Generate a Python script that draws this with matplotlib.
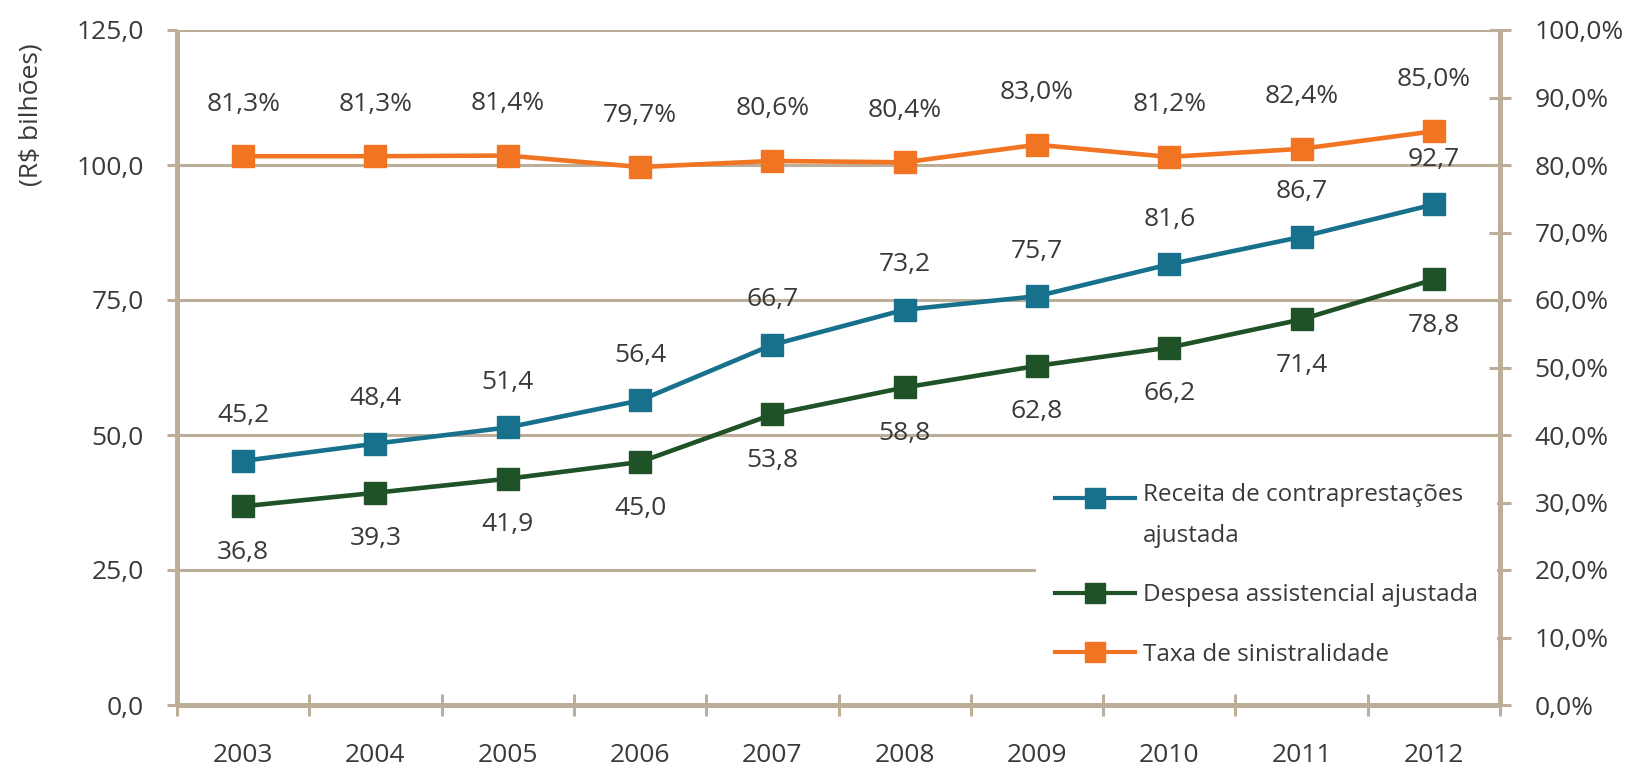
import matplotlib
matplotlib.use("Agg")
import matplotlib.pyplot as plt
from matplotlib.legend_handler import HandlerLine2D
import numpy as np

years = ["2003", "2004", "2005", "2006", "2007", "2008", "2009", "2010", "2011", "2012"]
receita = [45.2, 48.4, 51.4, 56.4, 66.7, 73.2, 75.7, 81.6, 86.7, 92.7]
despesa = [36.8, 39.3, 41.9, 45.0, 53.8, 58.8, 62.8, 66.2, 71.4, 78.8]
taxa = [81.3, 81.3, 81.4, 79.7, 80.6, 80.4, 83.0, 81.2, 82.4, 85.0]

left_ticks = [0, 25, 50, 75, 100, 125]
right_ticks = list(range(0, 101, 10))

C_BLUE = "#17708C"
C_GREEN = "#1F5227"
C_ORANGE = "#F07422"
C_AXIS = "#BCAE98"
C_TEXT = "#3A3A3A"

plt.rcParams['font.family'] = ['Open Sans', 'DejaVu Sans']
FS = 19
FSL = 17.5

fig = plt.figure(figsize=(16.27, 7.67), dpi=100)
ax = fig.add_axes([177/1627, 62/767, (1500-177)/1627, (705-30)/767])
ax2 = ax.twinx()

x = np.arange(len(years))

ax.set_xlim(-0.5, len(years) - 0.5)
ax.set_ylim(0, 125)
ax2.set_ylim(0, 100)

ax.set_yticks(left_ticks)
ax.set_yticklabels([f"{v:.1f}".replace(".", ",") for v in left_ticks])
ax.yaxis.grid(True, color=C_AXIS, linewidth=2.2)
ax.set_axisbelow(True)

ax.set_xticks(np.arange(-0.5, len(years), 1.0), minor=False)
ax.set_xticklabels([])
ax.set_xticks(x, minor=True)
ax.set_xticklabels(years, minor=True)
ax.tick_params(axis='x', which='major', direction='inout', length=16, width=2.2, color=C_AXIS)
ax.tick_params(axis='x', which='minor', length=0, pad=27, labelsize=FS, labelcolor=C_TEXT)
ax.tick_params(axis='y', direction='out', length=7, width=2.2, color=C_AXIS, pad=17,
               labelsize=FS, labelcolor=C_TEXT)

ax2.set_yticks(right_ticks)
ax2.set_yticklabels([f"{v:.1f}%".replace(".", ",") for v in right_ticks])
ax2.tick_params(axis='y', direction='inout', length=16, width=2.2, color=C_AXIS, pad=17,
                labelsize=FS, labelcolor=C_TEXT)

for a in (ax, ax2):
    for s in a.spines.values():
        s.set_visible(False)
ax.spines['left'].set_visible(True)
ax.spines['bottom'].set_visible(True)
ax2.spines['right'].set_visible(True)
for s in (ax.spines['left'], ax.spines['bottom'], ax2.spines['right']):
    s.set_color(C_AXIS)
    s.set_linewidth(3.6)
    s.set_capstyle('butt')

ax.set_ylabel("(R\\$ bilhões)", fontsize=FS, color=C_TEXT)
ax.yaxis.set_label_coords(-0.101, 0.874)

lkw = dict(linewidth=3.3, marker='s', markersize=16, clip_on=False)
l1, = ax.plot(x, receita, color=C_BLUE, label="Receita de contraprestações\najustada", zorder=3, **lkw)
l2, = ax.plot(x, despesa, color=C_GREEN, label="Despesa assistencial ajustada", zorder=3, **lkw)
l3, = ax2.plot(x, taxa, color=C_ORANGE, label="Taxa de sinistralidade", zorder=3, **lkw)

def fmt(v, pct=False):
    s = f"{v:.1f}".replace(".", ",")
    return s + "%" if pct else s

for xi, v in zip(x, receita):
    ax.annotate(fmt(v), (xi, v), xytext=(0, 45), textcoords='offset pixels',
                ha='center', va='center', fontsize=FS, color=C_TEXT)
for xi, v in zip(x, despesa):
    ax.annotate(fmt(v), (xi, v), xytext=(0, -46), textcoords='offset pixels',
                ha='center', va='center', fontsize=FS, color=C_TEXT)
for xi, v in zip(x, taxa):
    ax2.annotate(fmt(v, True), (xi, v), xytext=(0, 52), textcoords='offset pixels',
                 ha='center', va='center', fontsize=FS, color=C_TEXT)


class HandlerTopLine(HandlerLine2D):
    """Align the handle with the first line of a two-line label."""
    def __init__(self, shift, **kw):
        super().__init__(**kw)
        self.shift = shift

    def create_artists(self, legend, orig_handle, xdescent, ydescent, width, height,
                       fontsize, trans):
        return super().create_artists(legend, orig_handle, xdescent, ydescent - self.shift,
                                      width, height, fontsize, trans)


leg = ax2.legend(handles=[l1, l2, l3], loc='lower right',
                 bbox_to_anchor=(1497/1627, 81/767), bbox_transform=fig.transFigure,
                 frameon=True, facecolor='white', edgecolor='none', framealpha=1,
                 fontsize=FSL, handlelength=3.3, handletextpad=0.3, labelspacing=1.45,
                 borderpad=0.8, borderaxespad=0, fancybox=False,
                 handler_map={l1: HandlerTopLine(26)})
for t in leg.get_texts():
    t.set_color(C_TEXT)
    t.set_linespacing(1.95)
for h in leg.legend_handles:
    h.set_markersize(14)
    h.set_linewidth(3.0)

fig.savefig("out.png", dpi=100)
